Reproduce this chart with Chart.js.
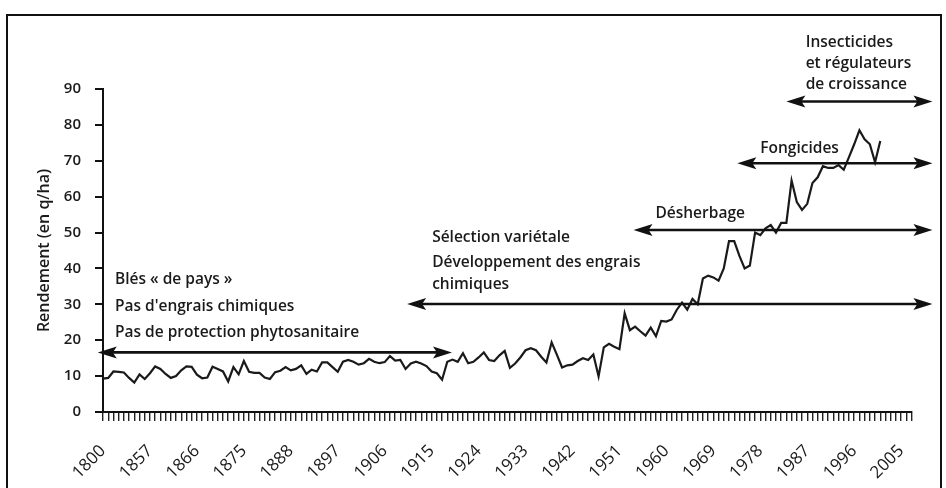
<!DOCTYPE html>
<html>
<head>
<meta charset="utf-8">
<script src="https://cdn.jsdelivr.net/npm/chart.js@4.4.1/dist/chart.umd.min.js"></script>
<style>
  body { margin: 0; background: #fff; }
  #wrap { position: relative; width: 946px; height: 488px; overflow: hidden; background: #fff; }
  #frame { position: absolute; left: 6px; top: 14px; width: 932px; height: 490px; border: 2px solid #111; }
  canvas { position: absolute; left: 0; top: 0; }
</style>
</head>
<body>
<div id="wrap">
  <div id="frame"></div>
  <canvas id="myChart" width="946" height="488"></canvas>
</div>
<script>
// categories: 1800, then 1849-1875, then 1880-2007 (one tick per year)
var years = [1800];
for (var y1 = 1849; y1 <= 1875; y1++) years.push(y1);
for (var y2 = 1880; y2 <= 2007; y2++) years.push(y2);

var tickYears = ['1800', '1857', '1866', '1875', '1888', '1897', '1906', '1915', '1924',
  '1933', '1942', '1951', '1960', '1969', '1978', '1987', '1996', '2005'];

// yield in q/ha
var yields = [
  9.3, 9.5, 11.3, 11.2, 11.0, 9.5, 8.2, 10.5, 9.2, 10.8,
  12.7, 12.0, 10.6, 9.5, 10.0, 11.6, 12.7, 12.6, 10.4, 9.4,
  9.6, 12.6, 12.0, 11.3, 8.5, 12.5, 10.5, 14.2, 11.2, 10.9,
  10.9, 9.6, 9.2, 11.1, 11.5, 12.5, 11.6, 12.0, 13.0, 10.6,
  11.8, 11.3, 13.8, 13.8, 12.5, 11.2, 14.0, 14.5, 14.0, 13.2,
  13.6, 14.8, 14.0, 13.6, 13.9, 15.6, 14.3, 14.5, 12.0, 13.5,
  14.0, 13.5, 12.8, 11.3, 10.8, 9.0, 14.0, 14.6, 14.0, 16.4,
  13.6, 14.0, 15.2, 16.6, 14.5, 14.2, 15.8, 17.0, 12.3, 13.5,
  15.2, 17.2, 17.8, 17.2, 15.4, 13.8, 19.4, 16.0, 12.4, 13.0,
  13.2, 14.2, 15.0, 14.5, 16.0, 9.9, 18.0, 19.0, 18.2, 17.5,
  27.5, 22.8, 23.8, 22.5, 21.3, 23.5, 21.1, 25.4, 25.2, 25.8,
  28.5, 30.5, 28.5, 31.5, 30.0, 37.2, 38.0, 37.5, 36.6, 40.0,
  47.6, 47.6, 43.5, 40.0, 40.8, 50.0, 49.3, 51.2, 52.1, 50.0,
  52.7, 52.7, 64.5, 58.5, 56.3, 58.0, 63.8, 65.4, 68.5, 68.0,
  68.0, 68.8, 67.5, 71.0, 74.6, 78.5, 76.0, 74.6, 69.6, 75.5
];

// double arrows: [from category index, to category index, value]
var arrowRows = [
  [-1, 66.9, 16.6],
  [58.3, 159, 30.1],
  [101.7, 159, 50.7],
  [121.6, 159, 69.3],
  [131, 159, 86.5]
];

// notes: [text, category index of left edge, value of text middle]
var notes = [
  ['Blés « de pays »', 2.3, 36.8],
  ["Pas d'engrais chimiques", 2.3, 29.5],
  ['Pas de protection phytosanitaire', 2.3, 22.0],
  ['Sélection variétale', 63.1, 48.7],
  ['Développement des engrais', 63.1, 41.5],
  ['chimiques', 63.1, 35.4],
  ['Désherbage', 105.9, 55.4],
  ['Fongicides', 126, 73.5],
  ['Insecticides', 134.7, 103],
  ['et régulateurs', 134.7, 97.2],
  ['de croissance', 134.7, 91.1]
];

var fontFam = "'Open Sans', 'DejaVu Sans', sans-serif";

var notesPlugin = {
  id: 'notes',
  afterDraw: function(chart) {
    var ctx = chart.ctx;
    var xs = chart.scales.x, ys = chart.scales.y;
    ctx.save();
    ctx.strokeStyle = '#111';
    ctx.fillStyle = '#111';
    ctx.lineWidth = 2.6;
    arrowRows.forEach(function(a) {
      var x1 = xs.getPixelForValue(a[0]);
      var x2 = xs.getPixelForValue(a[1]);
      var y = ys.getPixelForValue(a[2]);
      ctx.beginPath();
      ctx.moveTo(x1 + 12, y);
      ctx.lineTo(x2 - 12, y);
      ctx.stroke();
      [[x1, 1], [x2, -1]].forEach(function(h) {
        ctx.beginPath();
        ctx.moveTo(h[0], y);
        ctx.lineTo(h[0] + h[1] * 19, y - 6);
        ctx.lineTo(h[0] + h[1] * 15, y);
        ctx.lineTo(h[0] + h[1] * 19, y + 6);
        ctx.closePath();
        ctx.fill();
      });
    });
    ctx.fillStyle = '#1a1a1a';
    ctx.font = '600 15.5px ' + fontFam;
    ctx.textAlign = 'left';
    ctx.textBaseline = 'middle';
    notes.forEach(function(n) {
      ctx.fillText(n[0], xs.getPixelForValue(n[1]), ys.getPixelForValue(n[2]));
    });
    ctx.restore();
  }
};

var ctx = document.getElementById('myChart').getContext('2d');
var myChart = new Chart(ctx, {
  type: 'line',
  data: {
    labels: years,
    datasets: [{
      label: 'Rendement',
      data: yields,
      borderColor: '#1a1a1a',
      borderWidth: 2.2,
      pointRadius: 0,
      tension: 0,
      fill: false
    }]
  },
  options: {
    responsive: false,
    animation: false,
    devicePixelRatio: 1,
    layout: { padding: { top: 89, right: 32, left: 0, bottom: 0 } },
    plugins: { legend: { display: false }, tooltip: { enabled: false } },
    scales: {
      x: {
        offset: false,
        grid: { drawOnChartArea: false, tickLength: 9, color: '#222', lineWidth: 1.4 },
        border: { color: '#111', width: 2 },
        ticks: {
          autoSkip: false,
          minRotation: 45,
          maxRotation: 45,
          padding: 20,
          color: '#1a1a1a',
          font: { family: fontFam, size: 17 },
          callback: function(value, index) {
            var y = String(years[index]);
            return tickYears.indexOf(y) >= 0 ? y : '';
          }
        },
        afterFit: function(scale) { scale.height = 76; }
      },
      y: {
        min: 0,
        max: 90,
        grid: { drawOnChartArea: false, tickLength: 8, color: '#111', lineWidth: 2 },
        border: { color: '#111', width: 2 },
        ticks: { stepSize: 10, padding: 14, color: '#1a1a1a', font: { family: fontFam, size: 15, weight: '600' } },
        title: {
          display: true,
          text: 'Rendement (en q/ha)',
          color: '#1a1a1a',
          font: { family: fontFam, size: 16, weight: '600' },
          padding: { top: 35, bottom: 0 }
        },
        afterFit: function(scale) { scale.width = 103; }
      }
    }
  },
  plugins: [notesPlugin]
});
</script>
</body>
</html>
